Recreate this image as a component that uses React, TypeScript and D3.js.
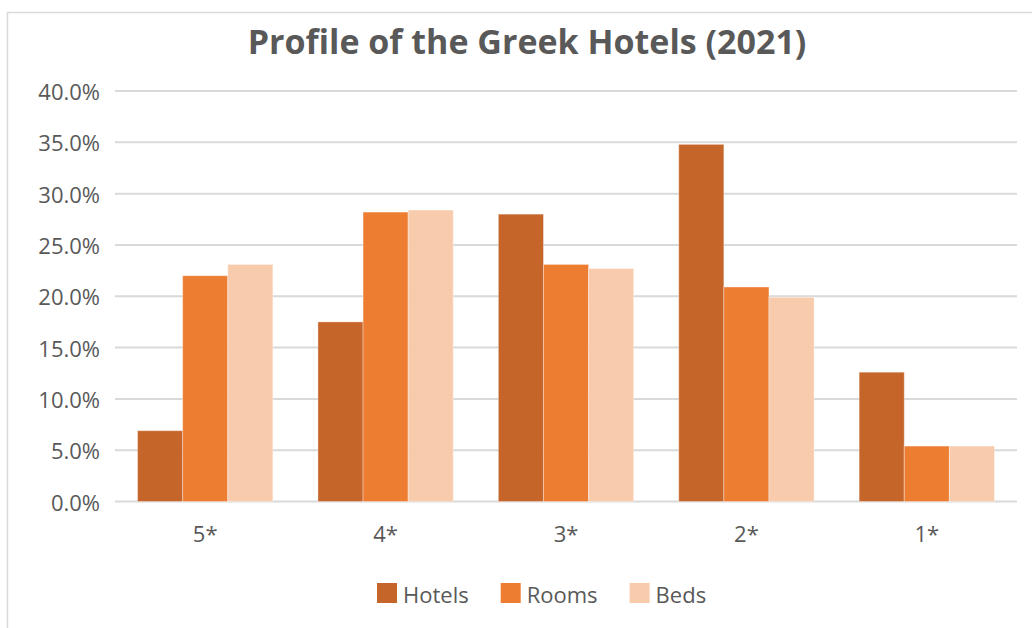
import React, { useEffect, useRef } from "react";
import * as d3 from "d3";

const categories = ["5*", "4*", "3*", "2*", "1*"];
const seriesNames = ["Hotels", "Rooms", "Beds"];
const hotels = [6.9, 17.5, 28.0, 34.8, 12.6];
const rooms = [22.0, 28.2, 23.1, 20.9, 5.4];
const beds = [23.1, 28.4, 22.7, 19.9, 5.4];
const yTicks = [0, 5, 10, 15, 20, 25, 30, 35, 40];
const colors = ["#C5652A", "#ED7D31", "#F8CBAD"];
const title = "Profile of the Greek Hotels (2021)";

const W = 1032;
const H = 628;
const FONT = "'Open Sans', 'Noto Sans', sans-serif";
const TEXT = "#595959";

export default function App() {
  const ref = useRef<SVGSVGElement | null>(null);

  useEffect(() => {
    const svg = d3.select(ref.current);
    svg.selectAll("*").remove();

    const values = [hotels, rooms, beds];

    // chart border
    svg
      .append("rect")
      .attr("x", 7.5)
      .attr("y", 12.5)
      .attr("width", 1200)
      .attr("height", 800)
      .attr("fill", "#fff")
      .attr("stroke", "#D9D9D9")
      .attr("stroke-width", 1.5);

    const x0 = d3
      .scaleBand<string>()
      .domain(categories)
      .range([115, 1017])
      .paddingInner(0.25)
      .paddingOuter(0.125);
    const x1 = d3
      .scaleBand<string>()
      .domain(seriesNames)
      .range([0, x0.bandwidth()]);
    const y = d3.scaleLinear().domain([0, 40]).range([501.5, 91]);

    // gridlines
    svg
      .append("g")
      .selectAll("line")
      .data(yTicks)
      .join("line")
      .attr("x1", 115)
      .attr("x2", 1017)
      .attr("y1", (d) => y(d))
      .attr("y2", (d) => y(d))
      .attr("stroke", "#D9D9D9")
      .attr("stroke-width", 2);

    // y labels
    svg
      .append("g")
      .selectAll("text")
      .data(yTicks)
      .join("text")
      .attr("x", 100)
      .attr("y", (d) => y(d) + 9)
      .attr("text-anchor", "end")
      .attr("font-family", FONT)
      .attr("font-size", 22)
      .attr("fill", TEXT)
      .text((d) => d.toFixed(1) + "%");

    // bars
    const groups = svg
      .append("g")
      .selectAll("g")
      .data(categories)
      .join("g")
      .attr("transform", (c) => `translate(${x0(c)},0)`);
    groups
      .selectAll("rect")
      .data((c, i) => seriesNames.map((s, j) => ({ s, j, v: values[j][categories.indexOf(c)] })))
      .join("rect")
      .attr("x", (d) => x1(d.s)!)
      .attr("width", x1.bandwidth())
      .attr("y", (d) => y(d.v))
      .attr("height", (d) => y(0) - y(d.v))
      .attr("fill", (d) => colors[d.j])
      .attr("stroke", "#fff")
      .attr("stroke-opacity", 0.35)
      .attr("stroke-width", 1);

    // x labels
    svg
      .append("g")
      .selectAll("text")
      .data(categories)
      .join("text")
      .attr("x", (c) => x0(c)! + x0.bandwidth() / 2)
      .attr("y", 542)
      .attr("text-anchor", "middle")
      .attr("font-family", FONT)
      .attr("font-size", 22)
      .attr("fill", TEXT)
      .text((c) => c);

    // title
    svg
      .append("text")
      .attr("x", 527)
      .attr("y", 54)
      .attr("text-anchor", "middle")
      .attr("font-family", FONT)
      .attr("font-weight", "bold")
      .attr("font-size", 34)
      .attr("fill", TEXT)
      .text(title);

    // legend
    const leg = svg.append("g");
    let lx = 377;
    seriesNames.forEach((s, j) => {
      leg
        .append("rect")
        .attr("x", lx)
        .attr("y", 583)
        .attr("width", 20)
        .attr("height", 20)
        .attr("fill", colors[j]);
      const t = leg
        .append("text")
        .attr("x", lx + 26)
        .attr("y", 603)
        .attr("font-family", FONT)
        .attr("font-size", 22)
        .attr("fill", TEXT)
        .text(s);
      const tw = (t.node() as SVGTextElement).getComputedTextLength();
      lx = lx + 26 + tw + 32;
    });
  }, []);

  return (
    <div style={{ position: "fixed", left: 0, top: 0, width: W, height: H, background: "#fff" }}>
      <svg ref={ref} width={W} height={H} style={{ display: "block" }} />
    </div>
  );
}
